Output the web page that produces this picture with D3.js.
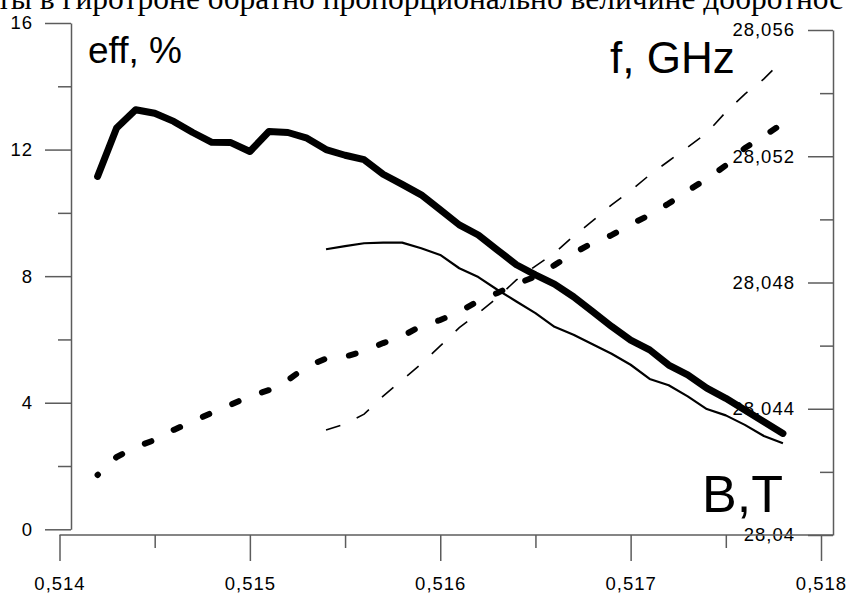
<!DOCTYPE html>
<html>
<head>
<meta charset="utf-8">
<script src="https://cdn.jsdelivr.net/npm/d3@7"></script>
<style>
    html, body { margin: 0; padding: 0; background: #fff; overflow: hidden; }
    svg { display: block; }
</style>
</head>
<body>
<div id="chart"></div>
<script>
// magnetic field, T
const fieldWide = [0.5142, 0.5143, 0.5144, 0.5145, 0.5146, 0.5147, 0.5148, 0.5149, 0.5150,
    0.5151, 0.5152, 0.5153, 0.5154, 0.5155, 0.5156, 0.5157, 0.5158, 0.5159, 0.5160,
    0.5161, 0.5162, 0.5163, 0.5164, 0.5165, 0.5166, 0.5167, 0.5168, 0.5169, 0.5170,
    0.5171, 0.5172, 0.5173, 0.5174, 0.5175, 0.5176, 0.5177, 0.5178];
const fieldNarrow = [0.5154, 0.5155, 0.5156, 0.5157, 0.5158, 0.5159, 0.5160,
    0.5161, 0.5162, 0.5163, 0.5164, 0.5165, 0.5166, 0.5167, 0.5168, 0.5169, 0.5170,
    0.5171, 0.5172, 0.5173, 0.5174, 0.5175, 0.5176, 0.5177, 0.5178];

// efficiency, %
const effThick = [11.15, 12.68, 13.26, 13.15, 12.89, 12.54, 12.23, 12.22, 11.94,
    12.57, 12.54, 12.36, 12.0, 11.82, 11.68, 11.22, 10.9, 10.57, 10.1,
    9.62, 9.3, 8.83, 8.36, 8.04, 7.75, 7.35, 6.88, 6.41, 5.98,
    5.67, 5.19, 4.88, 4.46, 4.14, 3.77, 3.4, 3.03];
const effThin = [8.85, 8.95, 9.04, 9.06, 9.06, 8.88, 8.67,
    8.25, 7.97, 7.57, 7.2, 6.83, 6.4, 6.15, 5.85, 5.55, 5.2,
    4.75, 4.55, 4.2, 3.8, 3.6, 3.3, 2.95, 2.72];

// frequency, GHz
const freqThick = [28.0419, 28.04247, 28.04279, 28.04301, 28.04333, 28.0436, 28.04387, 28.04413, 28.0444,
    28.04459, 28.04491, 28.04534, 28.04559, 28.04565, 28.04583, 28.04608, 28.0463, 28.04662, 28.04681,
    28.04708, 28.04741, 28.04767, 28.04795, 28.04819, 28.04855, 28.04893, 28.04925, 28.0495, 28.04984,
    28.05014, 28.0505, 28.05091, 28.05128, 28.05171, 28.05226, 28.05264, 28.05304];
const freqThin = [28.04333, 28.04352, 28.04383, 28.0444, 28.04491, 28.04542, 28.04599,
    28.04657, 28.04703, 28.04752, 28.04808, 28.04852, 28.04893, 28.04947, 28.04995, 28.05046, 28.05091,
    28.05141, 28.05185, 28.05229, 28.05274, 28.0534, 28.05397, 28.05445, 28.05505];

// ticks
const xMajor = [0.514, 0.515, 0.516, 0.517, 0.518];
const xMinor = [0.5145, 0.5155, 0.5165, 0.5175];
const xTickLabels = ["0,514", "0,515", "0,516", "0,517", "0,518"];
const effMajor = [0, 4, 8, 12, 16];
const effMinor = [2, 6, 10, 14];
const effTickLabels = ["0", "4", "8", "12", "16"];
const freqMajor = [28.04, 28.044, 28.048, 28.052, 28.056];
const freqMinor = [28.042, 28.046, 28.05, 28.054];
const freqTickLabels = ["28,04", "28,044", "28,048", "28,052", "28,056"];

const headerText = "ты в гиротроне обратно пропорционально величине добротнос";

const W = 849, H = 594;
const AXIS = "#5c5c5c";

const svg = d3.select("#chart")
    .append("svg")
    .attr("width", W)
    .attr("height", H);

// Scales
const x = d3.scaleLinear().domain([0.514, 0.518]).range([59.5, 821]);
const yEff = d3.scaleLinear().domain([0, 16]).range([529.3, 23]);
const yFreq = d3.scaleLinear().domain([28.04, 28.056]).range([535, 30]);
const leftX = 71, rightX = 833, bottomY = 535;

// Textzeile oben (abgeschnitten)
svg.append("text")
    .attr("x", -3)
    .attr("y", 9)
    .attr("font-family", "'Liberation Serif', 'Times New Roman', serif")
    .attr("font-size", "31.5px")
    .attr("fill", "#000")
    .text(headerText);

const styleAxis = g => {
    g.select(".domain").attr("stroke", AXIS).attr("stroke-width", 1.5);
    g.selectAll(".tick line").attr("stroke", AXIS).attr("stroke-width", 1.5);
    g.selectAll(".tick text")
        .attr("fill", "#000")
        .style("font-family", "'Liberation Sans', Arial, sans-serif")
        .style("font-size", "18.5px")
        .style("letter-spacing", "1px");
};

// linke Achse (eff)
const leftMajor = svg.append("g")
    .attr("transform", `translate(${leftX},0)`)
    .call(d3.axisLeft(yEff).tickValues(effMajor).tickSize(26).tickSizeOuter(0).tickPadding(12)
        .tickFormat((d, i) => effTickLabels[i]));
styleAxis(leftMajor);
const leftMinor = svg.append("g")
    .attr("transform", `translate(${leftX},0)`)
    .call(d3.axisLeft(yEff).tickValues(effMinor).tickSize(13).tickFormat(""));
styleAxis(leftMinor);
leftMinor.select(".domain").remove();

// rechte Achse (f)
const rightMajor = svg.append("g")
    .attr("transform", `translate(${rightX},0)`)
    .call(d3.axisLeft(yFreq).tickValues(freqMajor).tickSize(25).tickSizeOuter(0).tickPadding(13)
        .tickFormat((d, i) => freqTickLabels[i]));
styleAxis(rightMajor);
const rightMinor = svg.append("g")
    .attr("transform", `translate(${rightX},0)`)
    .call(d3.axisLeft(yFreq).tickValues(freqMinor).tickSize(13).tickFormat(""));
styleAxis(rightMinor);
rightMinor.select(".domain").remove();

// untere Achse (B)
const bottomMajor = svg.append("g")
    .attr("transform", `translate(0,${bottomY})`)
    .call(d3.axisBottom(x).tickValues(xMajor).tickSize(26).tickPadding(16)
        .tickFormat((d, i) => xTickLabels[i]));
styleAxis(bottomMajor);
bottomMajor.select(".domain").remove();
const bottomMinor = svg.append("g")
    .attr("transform", `translate(0,${bottomY})`)
    .call(d3.axisBottom(x).tickValues(xMinor).tickSize(13).tickFormat(""));
styleAxis(bottomMinor);
bottomMinor.select(".domain").remove();
svg.append("line")
    .attr("x1", x(0.514)).attr("x2", rightX)
    .attr("y1", bottomY).attr("y2", bottomY)
    .attr("stroke", AXIS).attr("stroke-width", 1.5);

// Achsentitel
const title = (tx, ty, size, label) => svg.append("text")
    .attr("x", tx).attr("y", ty)
    .attr("font-family", "'Liberation Sans', Arial, sans-serif")
    .attr("font-size", size)
    .attr("fill", "#000")
    .text(label);
title(88, 63, "37px", "eff, %");
title(610, 73, "44px", "f, GHz");
title(702, 512, "52px", "B,T");

// Kurven
const effLine = d3.line().x(d => x(d[0])).y(d => yEff(d[1]));
const freqLine = d3.line().x(d => x(d[0])).y(d => yFreq(d[1]));

svg.append("path")
    .datum(d3.zip(fieldNarrow, effThin))
    .attr("d", effLine)
    .attr("fill", "none")
    .attr("stroke", "#000")
    .attr("stroke-width", 2.2)
    .attr("stroke-linejoin", "round");

svg.append("path")
    .datum(d3.zip(fieldNarrow, freqThin))
    .attr("d", freqLine)
    .attr("fill", "none")
    .attr("stroke", "#000")
    .attr("stroke-width", 1.6)
    .attr("stroke-dasharray", "15,18");

svg.append("path")
    .datum(d3.zip(fieldWide, freqThick))
    .attr("d", freqLine)
    .attr("fill", "none")
    .attr("stroke", "#000")
    .attr("stroke-width", 6)
    .attr("stroke-linecap", "round")
    .attr("stroke-dasharray", "7,25")
    .attr("stroke-dashoffset", 6.5);

svg.append("path")
    .datum(d3.zip(fieldWide, effThick))
    .attr("d", effLine)
    .attr("fill", "none")
    .attr("stroke", "#000")
    .attr("stroke-width", 7)
    .attr("stroke-linejoin", "round")
    .attr("stroke-linecap", "round");
</script>
</body>
</html>
